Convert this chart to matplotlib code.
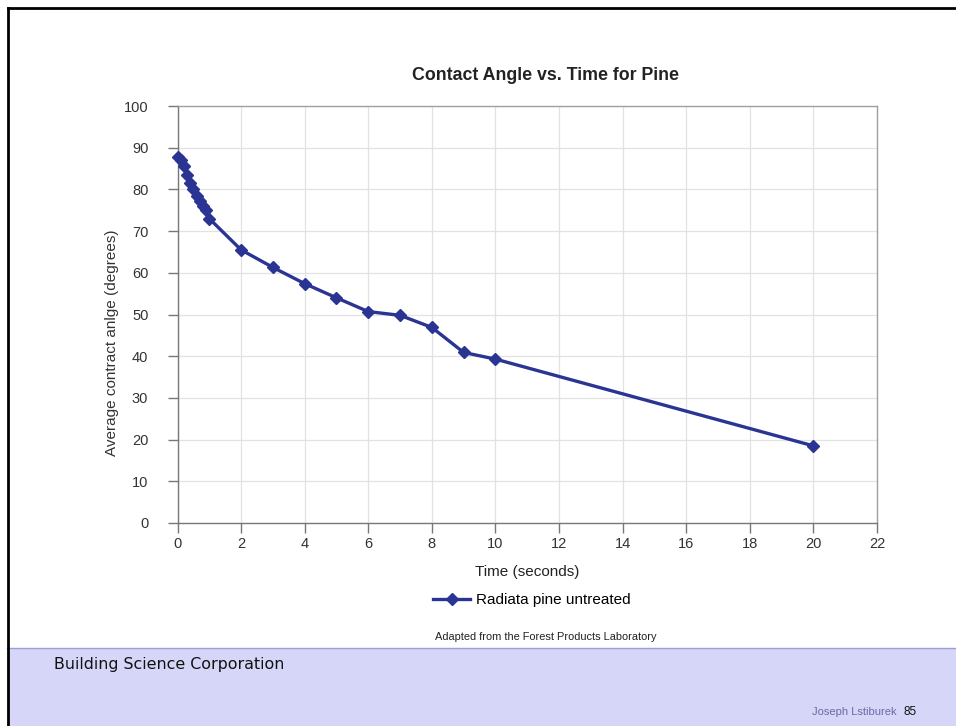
import matplotlib
matplotlib.use("Agg")
import matplotlib.pyplot as plt
from matplotlib.lines import Line2D
from matplotlib.patches import Rectangle

time_s = [0, 0.1, 0.2, 0.3, 0.4, 0.5, 0.6, 0.7, 0.8, 0.9, 1.0, 2, 3, 4, 5, 6, 7, 8, 9, 10, 20]
angle = [87.8, 87.0, 85.5, 83.5, 81.5, 80.0, 78.5, 77.2, 76.0, 75.0, 73.0,
         65.5, 61.3, 57.4, 54.0, 50.7, 49.8, 46.9, 40.9, 39.3, 18.5]
series_name = "Radiata pine untreated"
x_ticks = [0, 2, 4, 6, 8, 10, 12, 14, 16, 18, 20, 22]
y_ticks = [0, 10, 20, 30, 40, 50, 60, 70, 80, 90, 100]

W, H = 956, 726
plt.rcParams['font.family'] = ['Liberation Sans', 'DejaVu Sans']
fig = plt.figure(figsize=(W / 100, H / 100), dpi=100)
fig.patch.set_facecolor('white')

line_color = '#2a3593'

# axes position in pixels
left, right, top, bottom = 177.5, 877, 106, 523
ax = fig.add_axes([left / W, 1 - bottom / H, (right - left) / W, (bottom - top) / H])
ax.plot(time_s, angle, color=line_color, lw=2.4, marker='D', ms=6.5,
        markerfacecolor=line_color, markeredgecolor=line_color, zorder=3, clip_on=False)
ax.set_xlim(0, 22)
ax.set_ylim(0, 100)
ax.set_xticks(x_ticks)
ax.set_yticks(y_ticks)
ax.grid(True, color='#e2e2e2', lw=0.9)
ax.set_axisbelow(True)
for s in ax.spines.values():
    s.set_color('#a0a0a0')
    s.set_linewidth(1.0)
ax.spines['left'].set_color('#777777')
ax.spines['bottom'].set_color('#777777')
ax.tick_params(axis='both', colors='#777777', labelcolor='#333333', labelsize=10.5,
               length=7, width=1.0, direction='out')
ax.tick_params(axis='y', pad=14)
ax.tick_params(axis='x', pad=3)
ax.set_xlabel('Time (seconds)', fontsize=11, color='#222222', labelpad=10)
ax.set_ylabel('Average contract anlge (degrees)', fontsize=11, color='#333333')
ax.yaxis.set_label_coords((119 - left) / (right - left), (bottom - 343) / (bottom - top))

fig.text(546 / W, 1 - 75 / H, 'Contact Angle vs. Time for Pine', fontsize=12.8,
         fontweight='bold', ha='center', va='center', color='#222222')

handle = Line2D([], [], color=line_color, lw=2.4, marker='D', ms=6.5)
fig.legend([handle], [series_name], loc='center', bbox_to_anchor=(532 / W, 1 - 600 / H),
           frameon=False, fontsize=11, handlelength=2.4, handletextpad=0.4)

fig.text(546 / W, 1 - 637 / H, 'Adapted from the Forest Products Laboratory',
         fontsize=7.9, ha='center', va='center', color='#222222')

# footer band
fig.patches.append(Rectangle((7 / W, 0), 1, 78 / H, transform=fig.transFigure,
                             facecolor='#d6d6f8', edgecolor='none', zorder=0))
fig.add_artist(Line2D([7 / W, 1], [78 / H, 78 / H], transform=fig.transFigure,
                      color='#9c9cd8', lw=1.0))
fig.text(54 / W, 1 - 665 / H, 'Building Science Corporation', fontsize=11.4,
         family='DejaVu Sans', ha='left', va='center', color='#111111')
fig.text(897 / W, 1 - 712 / H, 'Joseph Lstiburek', fontsize=8, ha='right', va='center',
         color='#6a6aa8')
fig.text(903 / W, 1 - 712 / H, '85', fontsize=8.5, ha='left', va='center', color='#111111')

# slide border
fig.add_artist(Line2D([7.5 / W, 7.5 / W], [0, 1 - 7.5 / H], transform=fig.transFigure,
                      color='black', lw=2.0))
fig.add_artist(Line2D([7.5 / W, 1], [1 - 7.5 / H, 1 - 7.5 / H], transform=fig.transFigure,
                      color='black', lw=2.0))

fig.savefig('out.png', dpi=100)
